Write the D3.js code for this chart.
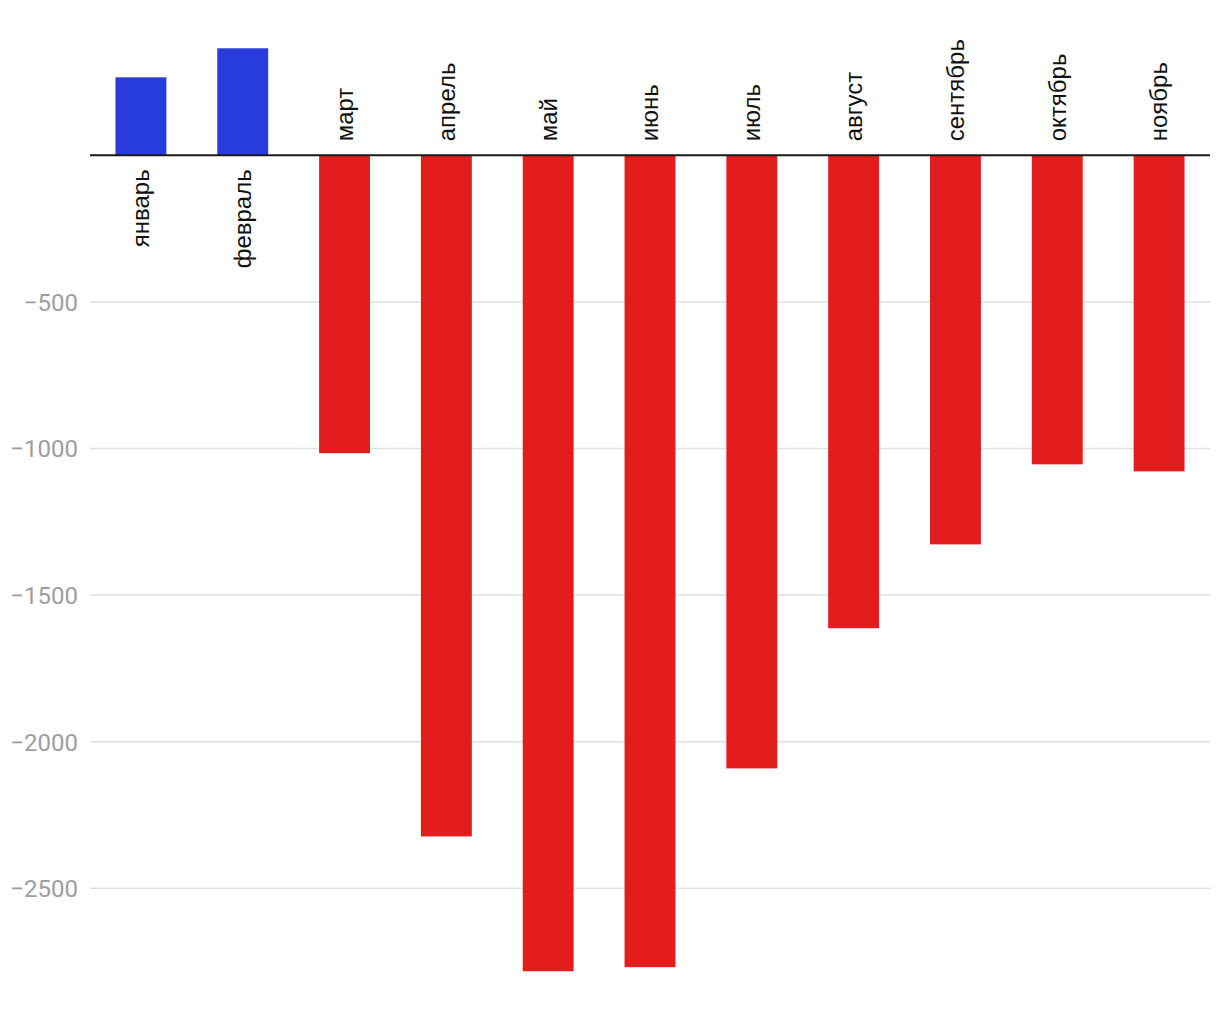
<!DOCTYPE html>
<html><head><meta charset="utf-8">
<script src="https://cdn.jsdelivr.net/npm/d3@7"></script>
<style>body{margin:0;background:#fff}svg{display:block}</style>
</head><body><svg id="c" width="1220" height="1020"></svg>
<script>
const months = ["январь","февраль","март","апрель","май","июнь","июль","август","сентябрь","октябрь","ноябрь"];
const values = [266, 365, -1016, -2323, -2783, -2769, -2091, -1613, -1327, -1054, -1078];
const yTicks = [-500, -1000, -1500, -2000, -2500];
const posColor = "#283cdc", negColor = "#e31c1e";

const svg = d3.select("#c");
const x = d3.scaleBand().domain(months).range([90, 1210]).paddingInner(0.5).paddingOuter(0.25);
const y = d3.scaleLinear().domain([0, -1000]).range([155.3, 448.5]);

const grid = svg.append("g");
grid.selectAll("line").data(yTicks).join("line")
  .attr("x1", 90).attr("x2", 1210)
  .attr("y1", d => y(d)).attr("y2", d => y(d))
  .attr("stroke", "#e0e0e0").attr("stroke-width", 1.5);

const yAxis = d3.axisLeft(y).tickValues(yTicks).tickSize(0).tickPadding(0)
  .tickFormat(d => "\u2212" + Math.abs(d));
const ga = svg.append("g").attr("transform", "translate(78,0)").call(yAxis);
ga.select(".domain").remove();
ga.selectAll("text").attr("font-family", "Roboto, sans-serif").attr("font-size", 24)
  .attr("fill", "#9e9e9e").attr("dy", "0.35em");

svg.append("g").selectAll("rect").data(values).join("rect")
  .attr("x", (d, i) => x(months[i]))
  .attr("width", x.bandwidth())
  .attr("y", d => y(Math.max(0, d)))
  .attr("height", d => Math.abs(y(d) - y(0)))
  .attr("fill", d => d >= 0 ? posColor : negColor);

svg.append("line").attr("x1", 90).attr("x2", 1210).attr("y1", y(0)).attr("y2", y(0))
  .attr("stroke", "#1a1a1a").attr("stroke-width", 2);

svg.append("g").selectAll("text").data(values).join("text")
  .attr("transform", (d, i) => {
    const cx = x(months[i]) + x.bandwidth() / 2;
    const ty = d >= 0 ? y(0) + 14 : y(0) - 14;
    return `translate(${cx},${ty}) rotate(-90)`;
  })
  .attr("text-anchor", d => d >= 0 ? "end" : "start")
  .attr("dy", "0.35em")
  .attr("font-family", "'Liberation Sans', Arial, sans-serif")
  .attr("font-size", 24)
  .attr("fill", "#111")
  .text((d, i) => months[i]);
</script></body></html>
